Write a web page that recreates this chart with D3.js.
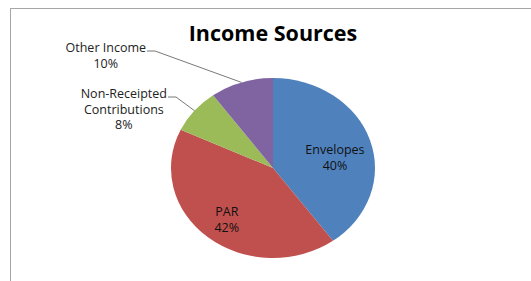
<!DOCTYPE html>
<html>
<head>
<meta charset="utf-8">
<script src="https://cdn.jsdelivr.net/npm/d3@7"></script>
<style>
  body { margin: 0; background: #fff; }
  text { font-family: "Open Sans", sans-serif; }
</style>
</head>
<body>
<div id="chart"></div>
<script>
const categories = ["Envelopes", "PAR", "Non-Receipted Contributions", "Other Income"];
const values = [40, 42, 8, 10];
const labelLines = [["Envelopes"], ["PAR"], ["Non-Receipted", "Contributions"], ["Other Income"]];
const colors = ["#4f81bd", "#c0504d", "#9bbb59", "#8064a2"];

const width = 531, height = 281;
const cx = 273, cy = 168, r = 90, sx = 102 / 90;
const lh = 15.5;

// outside labels: elbow point where leader line turns horizontal
const outside = { 2: [176, 97], 3: [155, 51] };
// small nudges for inside labels (Excel best-fit placement)
const nudge = { 0: [-4, 9], 1: [-2, 5] };

const svg = d3.select("#chart").append("svg")
  .attr("width", width)
  .attr("height", height);

svg.append("rect")
  .attr("x", 10.5).attr("y", 8.5)
  .attr("width", 540).attr("height", 300)
  .attr("fill", "#fff")
  .attr("stroke", "#a6a6a6");

svg.append("text")
  .attr("x", cx).attr("y", 41)
  .attr("text-anchor", "middle")
  .attr("font-size", 21.5)
  .attr("font-weight", "bold")
  .text("Income Sources");

const pie = d3.pie().sort(null).value(d => d)(values);
const arc = d3.arc().innerRadius(0).outerRadius(r);

const g = svg.append("g")
  .attr("transform", `translate(${cx},${cy}) scale(${sx},1)`);

g.selectAll("path")
  .data(pie)
  .join("path")
  .attr("d", arc)
  .attr("fill", (d, i) => colors[i]);

const total = d3.sum(values);
const pct = v => Math.round(v / total * 100) + "%";

// point on ellipse for angle a at radius factor k
const pt = (a, k) => [cx + Math.sin(a) * r * k * sx, cy - Math.cos(a) * r * k];

pie.forEach((d, i) => {
  const mid = (d.startAngle + d.endAngle) / 2;
  const lines = labelLines[i].concat([pct(values[i])]);
  if (outside[i]) {
    const [ex, ey] = outside[i];
    const [px, py] = pt(mid, 1.0);
    const t = svg.append("text")
      .attr("text-anchor", "middle")
      .attr("font-size", 12.5)
      .attr("fill", "#222");
    lines.forEach((l, j) => t.append("tspan").attr("x", 0).attr("dy", j ? lh : 0).text(l));
    const w = t.select("tspan").node().getComputedTextLength();
    t.attr("transform", `translate(${ex - 9 - w / 2},${ey + 1})`);
    svg.append("polyline")
      .attr("points", `${ex - 8},${ey} ${ex},${ey} ${px},${py}`)
      .attr("fill", "none")
      .attr("stroke", "#555")
      .attr("stroke-width", 0.8);
  } else {
    const [lx, ly] = pt(mid, 0.68);
    const [nx, ny] = nudge[i] || [0, 0];
    const t = svg.append("text")
      .attr("text-anchor", "middle")
      .attr("font-size", 12.5)
      .attr("fill", "#111")
      .attr("transform", `translate(${lx + nx},${ly + ny})`);
    lines.forEach((l, j) => t.append("tspan").attr("x", 0)
      .attr("dy", j ? lh : -(lines.length - 1) * lh / 2 + 4).text(l));
  }
});
</script>
</body>
</html>
